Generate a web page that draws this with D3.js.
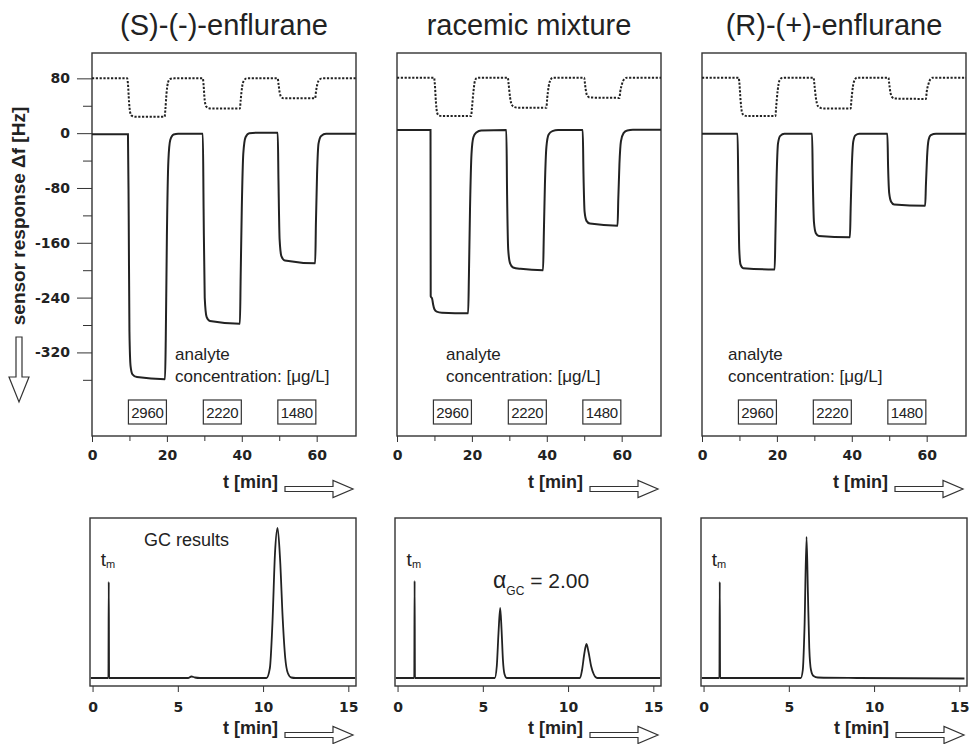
<!DOCTYPE html>
<html lang="en">
<head>
<meta charset="UTF-8">
<title>enflurane sensor response</title>
<script src="https://d3js.org/d3.v7.min.js"></script>
<style>
  body { margin: 0; background: #fff; }
  text { font-family: "Liberation Sans", Arial, sans-serif; fill: #222; }
  .tick text { font-family: "DejaVu Sans", sans-serif; font-weight: bold; font-size: 14px; }
</style>
</head>
<body>
<svg width="970" height="744"></svg>
<script>
// titles and labels
const titles = ["(S)-(-)-enflurane", "racemic mixture", "(R)-(+)-enflurane"];
const concLabels = ["2960", "2220", "1480"];
const concT = [14.8, 34.8, 54.7];   // time where each concentration box sits
const yTicks = [80, 0, -80, -160, -240, -320];
const yMinor = [40, -40, -120, -200, -280, -360];
const tTicks = [0, 20, 40, 60];
const tMinor = [10, 30, 50];
const gcTicks = [0, 5, 10, 15];

// sensor response [t min, Δf Hz], solid trace
const sensorS = [[0,-1.5],[9.6,-1.5],[9.8,-120],[10.0,-290],[10.3,-340],[10.8,-352],[12,-356],[19.5,-359],[19.7,-300],[20.0,-150],[20.4,-40],[20.9,-10],[21.8,-2],[23,-1],[29.6,-1],[29.8,-110],[30.1,-240],[30.6,-268],[31.5,-274],[39.5,-278],[39.7,-210],[40.0,-110],[40.4,-30],[41,-6],[42,0],[44,0.5],[49.6,0.5],[49.8,-70],[50.1,-155],[50.6,-180],[51.5,-186],[59.6,-190],[59.8,-130],[60.1,-60],[60.5,-15],[61.2,-4],[62.5,-1],[70.5,-1]];
const sensorRac = [[0,4.5],[8.95,4.5],[9.0,-238],[9.4,-242],[9.65,-250],[10.0,-257],[10.6,-260.5],[12,-262],[19.0,-263],[19.2,-210],[19.5,-110],[19.9,-30],[20.4,-6],[21.2,1],[22.5,4],[29.2,4.5],[29.4,-90],[29.7,-170],[30.2,-190],[31,-196],[33,-198],[39.0,-200],[39.2,-150],[39.5,-75],[39.9,-20],[40.5,-2],[41.5,3],[43,4.5],[49.6,4.5],[49.8,-60],[50.1,-115],[50.6,-128],[51.5,-132],[58.9,-135],[59.1,-95],[59.4,-45],[59.8,-12],[60.5,0],[61.5,4],[63,5],[70.5,5]];
const sensorR = [[0,-1],[9.5,-1],[9.7,-80],[9.95,-170],[10.3,-192],[11,-197],[19.4,-199],[19.6,-150],[19.9,-70],[20.3,-15],[20.9,-4],[22,-1],[29.4,-1],[29.6,-70],[29.9,-130],[30.4,-146],[31.2,-150],[39.5,-152],[39.7,-110],[40.0,-50],[40.4,-12],[41,-3],[42,-1],[49.5,-1],[49.7,-50],[50.0,-88],[50.5,-100],[51.3,-104],[59.6,-106],[59.8,-75],[60.1,-35],[60.5,-10],[61.1,-3],[62.5,-1],[70.5,-1]];

// dotted trace
const refS = [[0,80],[9.4,80],[9.6,72],[9.9,45],[10.2,30],[10.6,25.5],[11.5,24],[19.4,24],[19.6,35],[19.9,58],[20.3,74],[20.8,79],[22,80],[29.6,80],[29.8,70],[30.1,48],[30.5,39],[31.2,36.5],[32,36],[39.5,36],[39.7,48],[40.1,68],[40.6,77],[41.3,80],[49.6,80],[49.8,72],[50.1,60],[50.5,53],[51.2,51],[59.6,51],[59.8,60],[60.2,72],[60.7,78],[61.4,80],[70.5,80]];
const refRac = [[0,81],[9.9,81],[10.1,72],[10.4,45],[10.7,30],[11.1,26],[12,25],[19.8,25],[20.0,36],[20.4,60],[20.8,76],[21.3,80.5],[22.5,81],[29.6,81],[29.8,72],[30.2,52],[30.7,41],[31.4,38],[32.5,37],[39.9,37],[40.1,50],[40.5,68],[41,78],[41.6,81],[50.0,81],[50.2,72],[50.5,60],[50.9,54],[51.6,52],[59.4,51.5],[59.6,60],[60.1,72],[60.7,79],[61.4,81],[70.5,81]];
const refR = [[0,81],[9.8,81],[10.0,72],[10.3,48],[10.7,30],[11.2,26],[12,25],[19.6,25],[19.8,38],[20.2,62],[20.7,77],[21.3,80.5],[22.5,81],[29.8,81],[30.0,72],[30.4,52],[30.9,40],[31.6,37],[32.5,36],[39.7,36],[39.9,48],[40.3,68],[40.8,78],[41.4,81],[49.8,81],[50.0,72],[50.3,60],[50.8,52.5],[51.5,50.5],[59.8,50],[60.0,60],[60.5,72],[61.0,79],[61.6,81],[70.5,81]];

// GC chromatograms [t min, signal]
const gcS = [[-0.1,0],[0.93,0],[0.95,96],[0.97,0],[5.6,0],[5.8,1.5],[6.0,0.5],[6.3,0],[10.2,0],[10.4,10],[10.55,55],[10.7,125],[10.85,150],[11.0,118],[11.15,60],[11.3,20],[11.45,5],[11.65,0.5],[11.9,0],[15.4,0]];
const gcRac = [[-0.1,0],[0.98,0],[1.0,97],[1.02,0],[5.7,0],[5.82,12],[5.92,45],[6.02,70],[6.1,48],[6.18,18],[6.27,4],[6.4,0],[10.7,0],[10.82,8],[10.95,24],[11.08,34],[11.2,26],[11.35,12],[11.5,4],[11.7,0],[15.4,0]];
const gcR = [[-0.1,0],[0.93,0],[0.95,96],[0.97,0],[5.7,0],[5.82,8],[5.92,50],[6.04,141],[6.12,85],[6.2,30],[6.3,8],[6.45,2],[6.7,0.5],[9,0],[15.3,-0.5]];
const tmT = [0.95, 1.0, 0.95];

const solid = [sensorS, sensorRac, sensorR];
const dotted = [refS, refRac, refR];
const gc = [gcS, gcRac, gcR];

const svg = d3.select("svg");
const upperX0 = [92, 397, 702], W = 264, topY = 53, botY = 436;
const lowerX0 = [90, 395, 701], GW = 266, gTop = 518, gBot = 686;
const analyteDx = [83, 49, 26];
const fmt = d => String(d);   // plain hyphen for negatives

const y = d3.scaleLinear().domain([-442, 117]).range([botY, topY]);
const yGC = d3.scaleLinear().domain([-8, 160]).range([gBot, gTop]);

function rightArrow(xs, cy) {
  const p = d3.path();
  p.moveTo(xs, cy - 2.5); p.lineTo(xs + 48, cy - 2.5); p.lineTo(xs + 48, cy - 8.5);
  p.lineTo(xs + 68, cy); p.lineTo(xs + 48, cy + 8.5); p.lineTo(xs + 48, cy + 2.5);
  p.lineTo(xs, cy + 2.5); p.closePath();
  svg.append("path").attr("d", p.toString()).attr("fill", "#fff")
    .attr("stroke", "#333").attr("stroke-width", 1.2);
}

function tLabel(right, base) {
  svg.append("text").attr("x", right - 78).attr("y", base)
    .attr("text-anchor", "end").attr("font-size", 18).attr("font-weight", "bold").text("t [min]");
  rightArrow(right - 71, base + 1);
}

for (let i = 0; i < 3; i++) {
  const x0 = upperX0[i];
  const x = d3.scaleLinear().domain([0, 70.5]).range([x0, x0 + W]);
  const line = d3.line().x(d => x(d[0])).y(d => y(d[1])).curve(d3.curveMonotoneX);

  svg.append("text").attr("x", x0 + W / 2).attr("y", 35).attr("text-anchor", "middle")
    .attr("font-size", 29).text(titles[i]);

  svg.append("rect").attr("x", x0).attr("y", topY).attr("width", W).attr("height", botY - topY)
    .attr("fill", "none").attr("stroke", "#333").attr("stroke-width", 1.4);

  svg.append("path").attr("d", line(dotted[i])).attr("fill", "none")
    .attr("stroke", "#222").attr("stroke-width", 2).attr("stroke-dasharray", "2.2,1.6");
  svg.append("path").attr("d", line(solid[i])).attr("fill", "none")
    .attr("stroke", "#222").attr("stroke-width", 2);

  const ax = svg.append("g").attr("transform", `translate(0,${botY})`).attr("color", "#333")
    .call(d3.axisBottom(x).tickValues(tTicks).tickSize(6).tickPadding(8).tickFormat(fmt));
  ax.select(".domain").remove();
  const axm = svg.append("g").attr("transform", `translate(0,${botY})`).attr("color", "#333")
    .call(d3.axisBottom(x).tickValues(tMinor).tickSize(5).tickFormat(""));
  axm.select(".domain").remove();

  if (i === 0) {
    const ay = svg.append("g").attr("transform", `translate(${x0},0)`).attr("color", "#333")
      .call(d3.axisLeft(y).tickValues(yTicks).tickSize(15).tickPadding(7).tickFormat(fmt));
    ay.select(".domain").remove();
    const aym = svg.append("g").attr("transform", `translate(${x0},0)`).attr("color", "#333")
      .call(d3.axisLeft(y).tickValues(yMinor).tickSize(9).tickFormat(""));
    aym.select(".domain").remove();
  }

  const ta = svg.append("text").attr("x", x0 + analyteDx[i]).attr("y", 360).attr("font-size", 17);
  ta.append("tspan").text("analyte");
  ta.append("tspan").attr("x", x0 + analyteDx[i]).attr("y", 382).text("concentration: [\u03bcg/L]");

  concLabels.forEach((c, k) => {
    const cx = x(concT[k]);
    svg.append("rect").attr("x", cx - 19).attr("y", 400).attr("width", 38).attr("height", 24)
      .attr("fill", "#fff").attr("stroke", "#333").attr("stroke-width", 1.2);
    svg.append("text").attr("x", cx).attr("y", 418).attr("text-anchor", "middle")
      .attr("font-size", 15).attr("letter-spacing", -0.3).text(c);
  });

  tLabel(x0 + W, 488);

  // GC panel
  const gx0 = lowerX0[i];
  const xg = d3.scaleLinear().domain([-0.15, 15.45]).range([gx0, gx0 + GW]);
  const gline = d3.line().x(d => xg(d[0])).y(d => yGC(d[1])).curve(d3.curveMonotoneX);

  svg.append("rect").attr("x", gx0).attr("y", gTop).attr("width", GW).attr("height", gBot - gTop)
    .attr("fill", "none").attr("stroke", "#333").attr("stroke-width", 1.4);
  svg.append("path").attr("d", gline(gc[i])).attr("fill", "none")
    .attr("stroke", "#222").attr("stroke-width", 1.8);

  const gax = svg.append("g").attr("transform", `translate(0,${gBot})`).attr("color", "#333")
    .call(d3.axisBottom(xg).tickValues(gcTicks).tickSize(6).tickPadding(10).tickFormat(fmt));
  gax.select(".domain").remove();

  const tm = svg.append("text").attr("x", xg(tmT[i]) - 8).attr("y", 566).attr("font-size", 19);
  tm.append("tspan").text("t");
  tm.append("tspan").attr("font-size", 11).attr("dy", 2).text("m");

  tLabel(gx0 + GW, 734);
}

svg.append("text").attr("x", 144).attr("y", 546).attr("font-size", 18).text("GC results");

const al = svg.append("text").attr("x", 493).attr("y", 588).attr("fill", "#333");
al.append("tspan").attr("font-size", 23).text("\u03b1");
al.append("tspan").attr("font-size", 12).attr("dy", 7).text("GC");
al.append("tspan").attr("font-size", 21).attr("dy", -7).text(" = 2.00");

// y axis label with down arrow
svg.append("text").attr("transform", "translate(25,216) rotate(-90)")
  .attr("text-anchor", "middle").attr("font-size", 19).attr("font-weight", "bold")
  .text("sensor response \u0394f  [Hz]");
const da = d3.path();
da.moveTo(16, 337); da.lineTo(22, 337); da.lineTo(22, 377); da.lineTo(29, 377);
da.lineTo(19, 402); da.lineTo(9, 377); da.lineTo(16, 377); da.closePath();
svg.append("path").attr("d", da.toString()).attr("fill", "#fff")
  .attr("stroke", "#333").attr("stroke-width", 1.2);
</script>
</body>
</html>
